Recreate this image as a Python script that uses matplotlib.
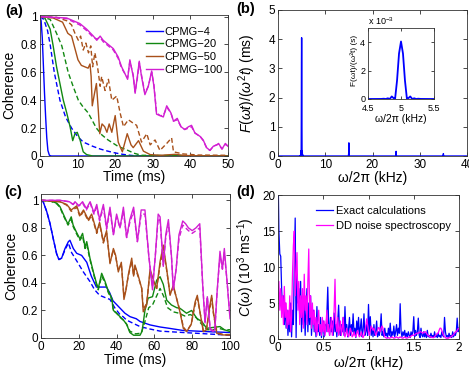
import numpy as np
import matplotlib
matplotlib.use("Agg")
import matplotlib.pyplot as plt
from matplotlib.ticker import FuncFormatter

plt.rcParams['font.family'] = ['Liberation Sans', 'DejaVu Sans']
plt.rcParams['mathtext.fontset'] = 'custom'
plt.rcParams['mathtext.rm'] = 'Liberation Sans'
plt.rcParams['mathtext.it'] = 'Liberation Sans:italic'
plt.rcParams['mathtext.bf'] = 'Liberation Sans:bold'

# ---------------- colours ----------------
C_BLUE = '#0000ff'
C_GREEN = '#118811'
C_BROWN = '#a8501a'
C_MAG = '#d21fd2'
C_MAG_D = '#ff00ff'

# ---------------- panel (a) data ----------------
a_labels = ['CPMG\u22124', 'CPMG\u221220', 'CPMG\u221250', 'CPMG\u2212100']

a4_t = [0, 0.3, 0.6, 0.9, 1.2, 1.5, 1.8, 2.1, 2.5, 3, 50]
a4_solid = [1, 0.97, 0.85, 0.65, 0.45, 0.28, 0.13, 0.04, 0.005, 0, 0]
a4d_t = [0, 1, 2, 2.7, 3.8, 5.3, 6.8, 8.4, 10, 11.5, 14, 16, 18, 20, 22, 24, 26, 50]
a4_dash = [1, 0.98, 0.9, 0.8, 0.6, 0.4, 0.28, 0.2, 0.14, 0.1, 0.07, 0.05, 0.035, 0.022, 0.012, 0.005, 0, 0]

a20_t = [0, 1.3, 2.7, 3.5, 4.4, 5.3, 6.2, 7.1, 8.0, 8.7, 9.3, 9.9, 10.6, 11.5, 12.4, 14, 50]
a20_solid = [1, 0.99, 0.91, 0.79, 0.64, 0.52, 0.40, 0.31, 0.21, 0.11, 0.16, 0.17, 0.12, 0.03, 0.01, 0, 0]
a20d_t = [0, 2.7, 4.4, 5.8, 7.5, 8.8, 10.2, 11.5, 12.8, 15, 16.5, 18.1, 20.7, 23.4, 25, 27, 50]
a20_dash = [1, 0.98, 0.88, 0.79, 0.6, 0.5, 0.4, 0.35, 0.31, 0.2, 0.15, 0.115, 0.07, 0.04, 0.02, 0.005, 0]

a50_t = [0, 3.5, 6, 7.4, 8.4, 9.2, 10.1, 11, 12.8, 13.3, 13.6, 13.9, 14.5, 15, 15.5, 15.9, 16.5, 17.2,
         17.8, 18.4, 19.1, 20, 20.8, 21.9, 23.2, 24.2, 24.8, 26.2, 27.5, 29.3, 32, 36, 38, 40, 50]
a50_solid = [1, 0.99, 0.96, 0.88, 0.86, 0.78, 0.69, 0.65, 0.63, 0.66, 0.57, 0.36, 0.45, 0.52, 0.33, 0.16,
             0.23, 0.21, 0.17, 0.23, 0.17, 0.29, 0.1, 0.03, 0.16, 0.08, 0.06, 0.11, 0.035, 0.01, 0.005,
             0.012, 0.005, 0.002, 0]
a50d_t = [0, 4.4, 7.1, 8.4, 9.3, 10.2, 10.8, 11.5, 12.2, 12.9, 13.5, 14, 14.6, 15.3, 16, 16.4, 17.3, 18.2,
          19.1, 20.4, 21.3, 22.2, 23.5, 24.8, 25.7, 27, 28.4, 29.3, 30.6, 31.9, 33.7, 35, 35.5, 38, 42, 50]
a50_dash = [1, 0.995, 0.97, 0.94, 0.88, 0.83, 0.86, 0.76, 0.81, 0.74, 0.79, 0.64, 0.74, 0.64, 0.5, 0.57,
            0.47, 0.55, 0.4, 0.43, 0.31, 0.21, 0.26, 0.235, 0.22, 0.1, 0.16, 0.08, 0.115, 0.04, 0.09,
            0.13, 0.03, 0.015, 0.007, 0.005]

a100_t = [0, 7.1, 10.6, 12.4, 14.2, 15.1, 16, 16.8, 17.7, 19.5, 20.8, 21.7, 22.6, 23.3, 23.9, 24.8, 25.3,
          25.9, 26.4, 27, 27.9, 28.8, 29.7, 30.3, 31, 31.9, 32.8, 33.7, 34.8, 35.5, 36.5, 37.5, 38.5,
          39.5, 40.3, 41.2, 42.6, 43.4, 44.3, 45.2, 46.1, 47, 47.5, 48.4, 49.3, 50]
a100_solid = [1, 0.99, 0.95, 0.91, 0.86, 0.83, 0.86, 0.83, 0.81, 0.77, 0.71, 0.64, 0.59, 0.55, 0.69, 0.57,
              0.45, 0.57, 0.68, 0.57, 0.44, 0.5, 0.61, 0.5, 0.3, 0.29, 0.28, 0.36, 0.31, 0.25, 0.27,
              0.21, 0.19, 0.21, 0.22, 0.165, 0.14, 0.115, 0.06, 0.04, 0.07, 0.08, 0.09, 0.05, 0.09, 0.07]
a100_dash = [1, 0.985, 0.94, 0.9, 0.85, 0.84, 0.85, 0.82, 0.8, 0.76, 0.7, 0.63, 0.59, 0.56, 0.68, 0.58,
             0.46, 0.56, 0.67, 0.58, 0.45, 0.5, 0.6, 0.51, 0.31, 0.29, 0.29, 0.35, 0.31, 0.25, 0.26,
             0.21, 0.19, 0.2, 0.21, 0.165, 0.14, 0.11, 0.06, 0.04, 0.07, 0.08, 0.085, 0.05, 0.085, 0.07]

# ---------------- panel (b) data ----------------
b_freq = [0, 4.50, 4.70, 4.74, 4.77, 4.80, 4.83, 4.86, 4.89, 4.91, 4.94, 4.97, 5.00, 5.03, 5.06, 5.09,
          5.11, 5.14, 5.17, 5.20, 5.23, 5.26, 5.30, 5.50,
          14.9, 14.97, 15.0, 15.03, 15.1, 24.9, 24.97, 25.0, 25.03, 25.1, 34.9, 34.97, 35.0, 35.03, 35.1, 40]
b_val = [0, 0, 0.005, 0.02, 0.0, 0.05, 0.0, 0.18, 0.05, 0, 1.3, 3.2, 4.05, 3.2, 1.3, 0,
         0.05, 0.18, 0, 0.05, 0, 0.02, 0.005, 0,
         0, 0.1, 0.45, 0.1, 0, 0, 0.04, 0.16, 0.04, 0, 0, 0.02, 0.08, 0.02, 0, 0]

# ---------------- panel (c) data ----------------
c4_t = [0, 1, 3, 4.8, 6.5, 8.3, 9.5, 10.9, 12.7, 14.5, 15.3, 17.1, 18.9, 21.5, 24.2, 26.6, 29.3, 31.9,
        34.6, 36.3, 38.1, 41.6, 44.4, 47.1, 50.4, 52.4, 57.7, 63, 68, 75, 82.4, 90, 100]
c4_solid = [1, 0.995, 0.92, 0.83, 0.72, 0.61, 0.57, 0.58, 0.65, 0.70, 0.71, 0.65, 0.615, 0.6, 0.55, 0.45,
            0.37, 0.37, 0.37, 0.33, 0.27, 0.22, 0.18, 0.155, 0.14, 0.12, 0.095, 0.08, 0.07, 0.055,
            0.05, 0.045, 0.04]
c4d_t = [0, 1, 3, 4.8, 6.5, 8.3, 9.5, 10.9, 12.7, 14.5, 16.2, 18.9, 22.4, 25.9, 28.4, 31, 34.6, 36.5, 39,
         41.8, 43.4, 45.3, 48.7, 52.4, 57.7, 63, 75, 84, 100]
c4_dash = [1, 0.995, 0.92, 0.83, 0.72, 0.61, 0.57, 0.58, 0.64, 0.69, 0.62, 0.56, 0.48, 0.41, 0.35, 0.31,
           0.29, 0.28, 0.22, 0.17, 0.155, 0.13, 0.107, 0.083, 0.065, 0.05, 0.04, 0.033, 0.02]

c20_t = [0, 5, 8.3, 10, 11.8, 13.6, 14.3, 16, 17, 18.7, 20.6, 22, 23.3, 24.2, 25.9, 27.7, 29.3, 30.3, 32.1,
         33.9, 35.6, 37.4, 38.3, 40, 41.8, 43.6, 45.3, 47, 49, 52.4, 53.5, 55, 56.7, 59, 61.2, 63, 64.7,
         66.5, 69, 71.8, 73.5, 77, 79.7, 82.4, 85, 87.7, 90, 94.7, 97, 100]
c20_solid = [1, 0.995, 0.98, 0.955, 0.9, 0.845, 0.83, 0.88, 0.82, 0.77, 0.72, 0.76, 0.66, 0.7, 0.58, 0.48,
             0.40, 0.36, 0.47, 0.41, 0.34, 0.29, 0.2, 0.18, 0.155, 0.13, 0.1, 0.04, 0.02, 0.02, 0.05,
             0.2, 0.29, 0.3, 0.42, 0.445, 0.39, 0.275, 0.24, 0.22, 0.216, 0.18, 0.2, 0.143, 0.12, 0.07,
             0.075, 0.083, 0.06, 0.047]
c20d_t = [0, 5, 8.3, 10, 11.8, 13.6, 14.3, 16, 17, 18.7, 20.6, 22, 23.3, 24.2, 25.9, 27.7, 29.3, 30.3, 32.1,
          33.9, 35.6, 37.4, 38.3, 40, 41.8, 43.6, 45.3, 47, 50, 53, 55, 57, 59, 61, 63, 65, 67, 70, 73,
          76, 79, 82, 85, 88, 91, 94, 97, 100]
c20_dash = [1, 0.995, 0.975, 0.95, 0.89, 0.84, 0.82, 0.86, 0.81, 0.76, 0.71, 0.74, 0.65, 0.68, 0.57, 0.47,
            0.39, 0.35, 0.45, 0.40, 0.33, 0.28, 0.2, 0.18, 0.15, 0.13, 0.1, 0.05, 0.03, 0.035, 0.12,
            0.22, 0.24, 0.3, 0.36, 0.3, 0.22, 0.19, 0.18, 0.16, 0.17, 0.15, 0.1, 0.06, 0.06, 0.07,
            0.06, 0.06]

c50_t = [0, 10, 13.6, 16, 18.9, 20.6, 22.5, 25, 26.8, 29.5, 31, 33, 34.7, 36.5, 38.3, 39.5, 40.9, 42.5,
         43.9, 45, 46.2, 48, 49, 49.7, 51.5, 53.3, 54.1, 55.9, 57.7, 59.5, 61.2, 63, 64.7, 66.5, 68.3,
         70, 71.5, 73.5, 75.3, 77.1, 79.5, 81.5, 82.7, 84.1, 85.9, 87.5, 89.4, 90.3, 91.2, 93, 96.5, 100]
c50_solid = [1, 0.99, 0.97, 0.93, 0.96, 0.89, 0.93, 0.86, 0.9, 0.77, 0.84, 0.7, 0.78, 0.54, 0.65, 0.6,
             0.48, 0.55, 0.28, 0.35, 0.46, 0.58, 0.45, 0.53, 0.45, 0.36, 0.19, 0.24, 0.5, 0.42, 0.36,
             0.555, 0.675, 0.5, 0.31, 0.385, 0.3, 0.19, 0.07, 0.046, 0.1, 0.26, 0.31, 0.19, 0.046,
             0.06, 0.24, 0.31, 0.19, 0.034, 0.022, 0.022]
c50_dash = [1, 0.99, 0.965, 0.92, 0.95, 0.88, 0.92, 0.85, 0.89, 0.76, 0.83, 0.69, 0.76, 0.55, 0.64, 0.59,
            0.49, 0.54, 0.3, 0.36, 0.45, 0.56, 0.45, 0.52, 0.44, 0.36, 0.21, 0.25, 0.48, 0.41, 0.36,
            0.53, 0.65, 0.49, 0.32, 0.37, 0.3, 0.2, 0.08, 0.05, 0.1, 0.24, 0.29, 0.19, 0.05, 0.06,
            0.22, 0.29, 0.18, 0.04, 0.025, 0.025]

c100_t = [0, 10, 15, 17, 18, 20, 22, 24, 26, 28, 29.5, 31, 33, 34.7, 36.5, 38.3, 40, 41.8, 43.6, 45.3,
          47, 49, 51, 53, 55, 57, 59, 60.5, 62, 63, 64.7, 66, 67.4, 69, 70, 71.5, 73, 75, 76.5, 78, 80,
          82, 84, 85.5, 86.8, 88, 89.5, 91, 92, 93, 94.7, 96, 97, 98.5, 100]
c100_solid = [1, 1, 0.99, 0.97, 0.99, 0.96, 0.99, 0.94, 0.99, 0.91, 0.97, 0.86, 0.97, 0.8, 0.95, 0.75,
              0.9, 0.8, 0.95, 0.73, 0.86, 0.95, 0.7, 0.93, 0.93, 0.6, 0.35, 0.6, 0.9, 0.88, 0.52, 0.75,
              0.86, 0.6, 0.35, 0.5, 0.75, 0.85, 0.83, 0.8, 0.78, 0.8, 0.83, 0.4, 0.11, 0.3, 0.06, 0.05,
              0.06, 0.3, 0.63, 0.5, 0.65, 0.4, 0.14]
c100_dash = [1, 1, 0.99, 0.97, 0.985, 0.96, 0.98, 0.93, 0.98, 0.9, 0.95, 0.85, 0.95, 0.79, 0.93, 0.75,
             0.88, 0.8, 0.92, 0.73, 0.84, 0.92, 0.7, 0.9, 0.9, 0.6, 0.37, 0.6, 0.87, 0.85, 0.53, 0.73,
             0.83, 0.6, 0.36, 0.5, 0.72, 0.82, 0.8, 0.78, 0.76, 0.78, 0.8, 0.4, 0.12, 0.3, 0.07, 0.05,
             0.06, 0.3, 0.6, 0.5, 0.62, 0.4, 0.16]

# ---------------- panel (d) data ----------------
d_freq = np.round(np.arange(201) * 0.01, 2)
d_exact = [24, 15, 11.8, 11.5, 7, 4, 6, 2, 5, 1.5,
           4, 0.5, 3, 1, 5, 0.3, 4, 2, 10, 16.8,
           0.2, 9, 5, 7, 3, 8, 1, 6, 2, 5,
           0.5, 4, 7, 1, 5, 2, 6, 0.5, 3, 4,
           1, 2.5, 0.3, 4.5, 1, 2, 0.5, 3, 0.2, 1.5,
           2.5, 0.3, 2, 1, 3.5, 7.2, 2, 0.5, 3, 1,
           2.5, 0.5, 3.6, 1, 2, 0.3, 2.5, 4.7, 1, 0.5,
           2, 1, 3, 0.5, 4.5, 1, 2, 0.3, 1.5, 3,
           0.5, 2, 1, 3.5, 0.8, 1.5, 0.2, 2.5, 1, 3,
           0.5, 1.5, 2.8, 0.3, 1.2, 3.5, 0.5, 1, 2, 0.5,
           4.8, 1, 3.1, 0.5, 1.5, 0.3, 2, 0.5, 1, 2.5,
           0.3, 1, 0.5, 1.5, 3.5, 0.5, 1, 0.3, 1.5, 0.5,
           0.8, 0.2, 1.5, 0.5, 2.2, 0.3, 1, 0.5, 1.8, 0.3,
           1, 2, 0.5, 1.5, 0.8, 4.9, 1, 0.3, 1, 0.5,
           1.2, 0.2, 0.8, 0.3, 1, 0.5, 0.2, 1, 0.5, 1,
           3.1, 0.3, 1.2, 0.5, 1, 2.9, 0.5, 0.2, 1.5, 0.5,
           0.3, 1, 0.3, 0.8, 0.2, 1.2, 0.3, 0.5, 0.2, 0.8,
           0.3, 0.5, 0.2, 1, 0.3, 0.5, 0.2, 0.8, 0.3, 0.5,
           0.2, 1, 0.5, 0.3, 3, 1, 0.3, 0.5, 0.2, 0.8,
           0.3, 0.5, 0.2, 1, 0.3, 0.8, 0.5, 1, 2.9, 1,
           1.5]
d_dd = [5.5, 8, 4, 7, 3, 6, 2, 7.3, 3, 5,
        1.5, 4, 2, 6, 1, 3, 9, 13, 15, 6,
        9, 12, 4, 8, 2, 6, 3, 7, 1.5, 9,
        4, 6, 2, 8, 12.5, 3, 6, 1.5, 5, 2,
        4, 1, 3, 0.5, 2.5, 4, 1, 2, 0.5, 3,
        1, 2.5, 0.5, 2, 4, 1, 2, 0.5, 1.5, 3,
        0.5, 2, 4, 8.3, 2, 1, 3, 0.5, 1.5, 2.5,
        0.5, 1.5, 3, 0.8, 0.3, 0.8, 1.5, 0.5, 0.3, 0.8,
        1.5, 1, 0.3, 0.5, 1, 0.5, 0.3, 0.8, 1.2, 0.6,
        0.3, 0.5, 1, 0.5, 0.2, 0.5, 1, 1.8, 2.8, 2,
        1, 0.5, 1.2, 1.8, 1.5, 1.2, 1.5, 1.0, 0.5, 0.8,
        1.2, 1.6, 1.5, 1, 1.5, 1.8, 1.5, 0.8, 0.3, 0.2,
        0.1, 0.15, 0.2, 0.1, 0.15, 0.2, 0.3, 0.2, 0.1, 0.15,
        0.2, 0.3, 0.2, 0.1, 0.2, 0.3, 0.2, 0.15, 0.1, 0.2,
        0.3, 0.2, 0.1, 0.15, 0.2, 0.3, 0.3, 0.4, 0.5, 0.5,
        0.5, 0.6, 0.7, 0.8, 0.8, 0.8, 0.9, 1.0, 1.0, 0.9,
        0.8, 0.9, 1.0, 1.0, 0.8, 0.6, 0.5, 0.4, 0.3, 0.3,
        0.2, 0.2, 0.2, 0.3, 0.5, 0.6, 0.8, 0.8, 1.2, 1.5,
        1.5, 1.2, 0.8, 0.5, 0.3, 0.2, 0.1, 0.1, 0.1, 0.2,
        0.2, 0.3, 0.4, 0.5, 0.6, 0.8, 1.0, 1.0, 1.2, 1.4,
        1.5]

# ---------------- figure ----------------
W, H = 469, 371
fig = plt.figure(figsize=(W / 100, H / 100), dpi=100)


def box(l, t, r, b):
    return [l / W, 1 - b / H, (r - l) / W, (b - t) / H]


fmt = FuncFormatter(lambda v, p: '%g' % v)
TICK_FS = 8.5
LAB_FS = 10
DASH = (0, (3.5, 2.0))
LW = 1.0


def style(ax, fs=TICK_FS):
    ax.tick_params(direction='in', top=True, right=True, length=3, width=0.5,
                   labelsize=fs, pad=2)
    for s in ax.spines.values():
        s.set_linewidth(0.6)
        s.set_color('#333333')
    ax.xaxis.set_major_formatter(fmt)
    ax.yaxis.set_major_formatter(fmt)


# (a)
axa = fig.add_axes(box(40, 14.5, 228, 156))
axa.plot(a4_t, a4_solid, color=C_BLUE, lw=LW, label=a_labels[0])
axa.plot(a4d_t, a4_dash, color=C_BLUE, lw=LW, ls=DASH)
axa.plot(a20_t, a20_solid, color=C_GREEN, lw=LW, label=a_labels[1])
axa.plot(a20d_t, a20_dash, color=C_GREEN, lw=LW, ls=DASH)
axa.plot(a50_t, a50_solid, color=C_BROWN, lw=LW, label=a_labels[2])
axa.plot(a50d_t, a50_dash, color=C_BROWN, lw=LW, ls=DASH)
axa.plot(a100_t, a100_solid, color=C_MAG, lw=LW, label=a_labels[3])
axa.plot(a100_t, a100_dash, color=C_MAG, lw=LW, ls=DASH)
axa.set_xlim(0, 50)
axa.set_ylim(0, 1.015)
axa.set_xticks([0, 10, 20, 30, 40, 50])
axa.set_yticks([0, 0.2, 0.4, 0.6, 0.8, 1])
style(axa)
axa.set_xlabel('Time (ms)', fontsize=LAB_FS)
axa.set_ylabel('Coherence', fontsize=LAB_FS)
axa.xaxis.set_label_coords(0.5, -0.148)
axa.xaxis.label.set_va('center')
axa.yaxis.set_label_coords(-0.165, 0.5)
axa.yaxis.label.set_va('center')
axa.legend(loc='upper right', frameon=False, fontsize=8, handlelength=1.5,
           handletextpad=0.2, labelspacing=0.25, borderaxespad=0.3,
           bbox_to_anchor=(1.015, 0.97))

# (b)
axb = fig.add_axes(box(278, 10, 467, 156))
axb.plot(b_freq, b_val, color=C_BLUE, lw=LW)
axb.set_xlim(0, 40)
axb.set_ylim(0, 5)
axb.set_xticks([0, 10, 20, 30, 40])
axb.set_yticks([0, 1, 2, 3, 4, 5])
style(axb)
axb.set_xlabel('\u03c9/2\u03c0 (kHz)', fontsize=LAB_FS)
axb.set_ylabel(r'$F(\omega t)/(\omega^2 t)$ (ms)', fontsize=LAB_FS)
axb.xaxis.set_label_coords(0.5, -0.15)
axb.xaxis.label.set_va('center')
axb.yaxis.set_label_coords(-0.164, 0.5)
axb.yaxis.label.set_va('center')

# inset
axi = fig.add_axes(box(368, 28, 434, 99))
axi.plot(b_freq, b_val, color=C_BLUE, lw=1.3)
axi.set_xlim(4.5, 5.5)
axi.set_ylim(0, 5)
axi.set_xticks([4.5, 5, 5.5])
axi.set_yticks([0, 2, 4])
style(axi, fs=6.5)
axi.tick_params(length=2)
axi.tick_params(axis='x', pad=3.5)
axi.set_xlabel('\u03c9/2\u03c0 (kHz)', fontsize=7.5, labelpad=1)
axi.set_ylabel('F(\u03c9t)/(\u03c9\u00b2t) (s)', fontsize=6)
axi.yaxis.set_label_coords(-0.21, 0.55)
axi.yaxis.label.set_va('center')
axi.text(0.0, 1.02, r'x 10$^{-3}$', transform=axi.transAxes, fontsize=6.5,
         ha='left', va='bottom')

# (c)
axc = fig.add_axes(box(41, 194, 230, 338))
axc.plot(c4_t, c4_solid, color=C_BLUE, lw=LW)
axc.plot(c4d_t, c4_dash, color=C_BLUE, lw=LW, ls=DASH)
axc.plot(c20_t, c20_solid, color=C_GREEN, lw=LW)
axc.plot(c20d_t, c20_dash, color=C_GREEN, lw=LW, ls=DASH)
axc.plot(c50_t, c50_solid, color=C_BROWN, lw=LW)
axc.plot(c50_t, c50_dash, color=C_BROWN, lw=LW, ls=DASH)
axc.plot(c100_t, c100_solid, color=C_MAG, lw=LW)
axc.plot(c100_t, c100_dash, color=C_MAG, lw=LW, ls=DASH)
axc.set_xlim(0, 100)
axc.set_ylim(0, 1.046)
axc.set_xticks([0, 20, 40, 60, 80, 100])
axc.set_yticks([0, 0.2, 0.4, 0.6, 0.8, 1])
style(axc)
axc.set_xlabel('Time (ms)', fontsize=LAB_FS)
axc.set_ylabel('Coherence', fontsize=LAB_FS)
axc.xaxis.set_label_coords(0.5, -0.153)
axc.xaxis.label.set_va('center')
axc.yaxis.set_label_coords(-0.159, 0.5)
axc.yaxis.label.set_va('center')

# (d)
axd = fig.add_axes(box(278, 195, 459, 339))
axd.plot(d_freq, d_exact, color=C_BLUE, lw=0.9, label='Exact calculations')
axd.plot(d_freq, d_dd, color=C_MAG_D, lw=0.9, label='DD noise spectroscopy')
axd.set_xlim(0, 2)
axd.set_ylim(0, 20)
axd.set_xticks([0, 0.5, 1, 1.5, 2])
axd.set_yticks([0, 5, 10, 15, 20])
style(axd)
axd.set_xlabel('\u03c9/2\u03c0 (kHz)', fontsize=LAB_FS)
axd.set_ylabel(r'$C(\omega)$ (10$^3$ ms$^{-1}$)', fontsize=LAB_FS)
axd.xaxis.set_label_coords(0.5, -0.167)
axd.xaxis.label.set_va('center')
axd.yaxis.set_label_coords(-0.174, 0.5)
axd.yaxis.label.set_va('center')
axd.legend(loc='upper right', frameon=False, fontsize=8, handlelength=1.5,
           handletextpad=0.3, labelspacing=0.5, borderaxespad=0.3,
           bbox_to_anchor=(1.0, 0.98))

# panel labels
for x, y, s in [(14, 11, '(a)'), (246, 9, '(b)'), (13, 192, '(c)'), (246, 192, '(d)')]:
    fig.text(x / W, 1 - y / H, s, fontsize=10.5, fontweight='bold', ha='center', va='center')

fig.savefig('out.png', dpi=100)
